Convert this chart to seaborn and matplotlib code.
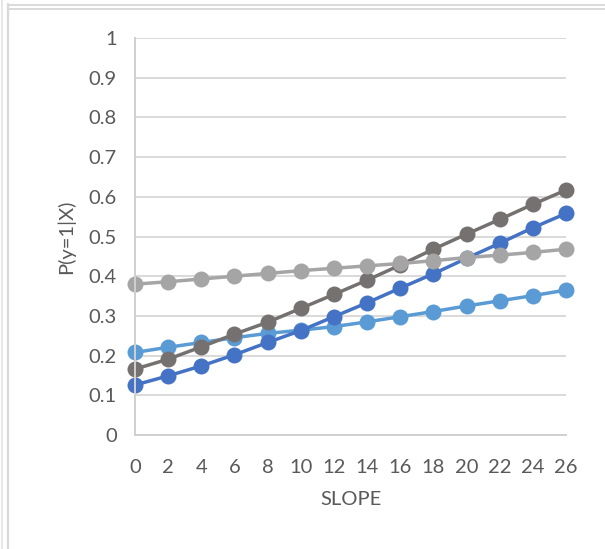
import matplotlib
matplotlib.use("Agg")
import matplotlib.pyplot as plt
from matplotlib.lines import Line2D
import seaborn as sns
import pandas as pd

slope = [0, 2, 4, 6, 8, 10, 12, 14, 16, 18, 20, 22, 24, 26]
series_a = [0.126, 0.149, 0.174, 0.202, 0.233, 0.263, 0.298, 0.333, 0.370, 0.406, 0.445, 0.483, 0.522, 0.558]
series_b = [0.208, 0.221, 0.233, 0.245, 0.256, 0.264, 0.273, 0.285, 0.298, 0.311, 0.325, 0.338, 0.351, 0.365]
series_c = [0.166, 0.191, 0.222, 0.254, 0.284, 0.319, 0.354, 0.390, 0.428, 0.468, 0.506, 0.543, 0.581, 0.617]
series_d = [0.380, 0.386, 0.393, 0.400, 0.407, 0.414, 0.420, 0.426, 0.432, 0.439, 0.447, 0.453, 0.460, 0.468]
series_names = ["B", "A", "C", "D"]
y_ticks = [0, 0.1, 0.2, 0.3, 0.4, 0.5, 0.6, 0.7, 0.8, 0.9, 1]
y_tick_labels = ["0", "0.1", "0.2", "0.3", "0.4", "0.5", "0.6", "0.7", "0.8", "0.9", "1"]

sns.set_style("white")
plt.rcParams["font.family"] = ["Lato", "DejaVu Sans"]

data = {"A": series_a, "B": series_b, "C": series_c, "D": series_d}
df = pd.concat([pd.DataFrame({"SLOPE": slope, "P": data[n], "series": n}) for n in series_names],
               ignore_index=True)
palette = {"A": "#4472C4", "B": "#5B9BD5", "C": "#767171", "D": "#A5A5A5"}

fig = plt.figure(figsize=(6.05, 5.49), dpi=100)
ax = fig.add_axes([135 / 605, 1 - 435 / 549, (566 - 135) / 605, (435 - 38) / 549])

sns.lineplot(data=df, x="SLOPE", y="P", hue="series", hue_order=series_names,
             palette=palette, marker="o", markersize=11.5, markeredgewidth=0,
             linewidth=2.5, legend=False, ax=ax, clip_on=False)

ax.set_xlim(0, 26)
ax.set_ylim(0, 1)
ax.set_xticks(slope)
ax.set_xticklabels([str(s) for s in slope])
ax.set_yticks(y_ticks)
ax.set_yticklabels(y_tick_labels)
ax.yaxis.grid(True, color="#D9D9D9", linewidth=1.4)
ax.set_axisbelow(True)
for side in ["top", "right"]:
    ax.spines[side].set_visible(False)
for side in ["left", "bottom"]:
    ax.spines[side].set_color("#D0D0D0")
    ax.spines[side].set_linewidth(1.4)
ax.tick_params(axis="both", length=0, labelsize=14.5, colors="#595959")
ax.tick_params(axis="x", pad=17)
ax.tick_params(axis="y", pad=13)
ax.set_xlabel("SLOPE", fontsize=14.5, color="#595959", labelpad=11)
ax.set_ylabel("P(y=1|X)", fontsize=14.5, color="#595959", labelpad=10)

# outer frame lines from the screenshot
W, H = 605, 549
fig.add_artist(Line2D([1.5 / W, 1.5 / W], [0, 1], color="#E3E3E3", linewidth=1.2, transform=fig.transFigure))
fig.add_artist(Line2D([8 / W, 8 / W], [0, 1 - 4 / H], color="#D9D9D9", linewidth=1.6, transform=fig.transFigure))
fig.add_artist(Line2D([8 / W, 1], [1 - 4.5 / H, 1 - 4.5 / H], color="#D9D9D9", linewidth=1.4, transform=fig.transFigure))
fig.add_artist(Line2D([8 / W, 1], [1 - 9 / H, 1 - 9 / H], color="#D9D9D9", linewidth=1.4, transform=fig.transFigure))

fig.savefig("out.png", dpi=100)
